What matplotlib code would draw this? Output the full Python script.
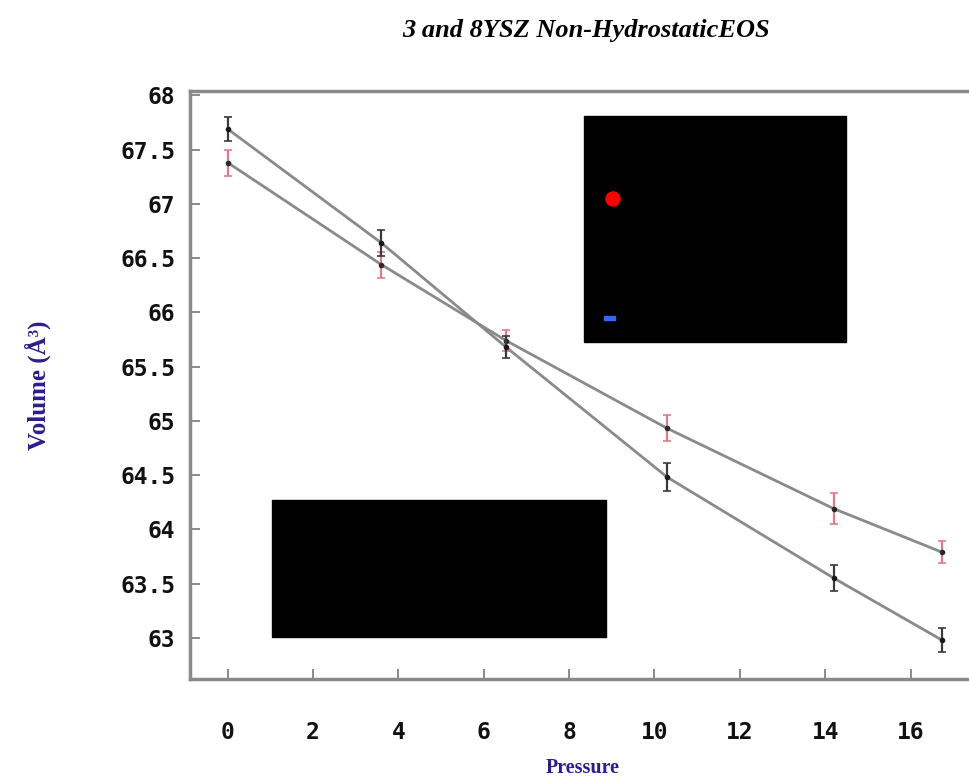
import matplotlib
matplotlib.use("Agg")
import matplotlib.pyplot as plt
from matplotlib.patches import Rectangle, Ellipse

# data
pressure = [0.0, 3.6, 6.52, 10.3, 14.2, 16.73]
vol_3ysz = [67.69, 66.64, 65.68, 64.48, 63.55, 62.98]
err_3ysz = [0.11, 0.12, 0.10, 0.13, 0.12, 0.11]
vol_8ysz = [67.38, 66.44, 65.74, 64.93, 64.19, 63.79]
err_8ysz = [0.12, 0.12, 0.10, 0.12, 0.14, 0.10]
xticks = [0, 2, 4, 6, 8, 10, 12, 14, 16]
yticks = [63, 63.5, 64, 64.5, 65, 65.5, 66, 66.5, 67, 67.5, 68]
ytick_labels = ["63", "63.5", "64", "64.5", "65", "65.5", "66", "66.5", "67", "67.5", "68"]

W, H = 969, 781
fig = plt.figure(figsize=(W / 100, H / 100), dpi=100)
ax = fig.add_axes([190 / W, 1 - 679 / H, (W - 190) / W, (679 - 91) / H])

grey = "#8a8a8a"
ax.plot(pressure, vol_3ysz, color=grey, lw=2.0, zorder=2)
ax.plot(pressure, vol_8ysz, color=grey, lw=2.0, zorder=2)
ax.errorbar(pressure, vol_8ysz, yerr=err_8ysz, fmt="o", ms=3, color="#2a2a2a",
            ecolor="#e07a8a", elinewidth=1.6, capsize=3, capthick=1.2, zorder=3)
ax.errorbar(pressure, vol_3ysz, yerr=err_3ysz, fmt="o", ms=3, color="#1a1a1a",
            ecolor="#3a3a3a", elinewidth=1.6, capsize=3, capthick=1.2, zorder=4)

ax.set_xlim(-0.883, 17.37)
ax.set_ylim(62.62, 68.04)
ax.set_xticks(xticks)
ax.set_yticks(yticks)
ax.set_yticklabels(ytick_labels)

ax.spines["right"].set_visible(False)
for s in ["left", "bottom", "top"]:
    ax.spines[s].set_color(grey)
    ax.spines[s].set_linewidth(2.5)

ax.tick_params(axis="both", direction="in", length=7, width=1.4, color=grey)
ax.tick_params(axis="x", pad=30)
ax.tick_params(axis="y", pad=10.5)
for lab in ax.get_xticklabels() + ax.get_yticklabels():
    lab.set_fontfamily("DejaVu Sans Mono")
    lab.set_fontweight("bold")
    lab.set_fontsize(16.5)
    lab.set_color("#111111")

fig.text(586 / W, 1 - 30 / H, "3 and 8YSZ Non-HydrostaticEOS", ha="center", va="center",
         family="Liberation Serif", weight="bold", style="italic", size=19)
navy = "#2a1e8c"
fig.text(583 / W, 1 - 768 / H, "Pressure", ha="center", va="center",
         family="Liberation Serif", weight="bold", size=14.5, color=navy)
fig.text(38 / W, 1 - 385 / H, "Volume (Å³)", ha="center", va="center", rotation=90,
         family="Liberation Serif", weight="bold", size=18, color=navy)

# black boxes covering the legend areas
tr = fig.transFigure
fig.add_artist(Rectangle((584 / W, 1 - 342 / H), (846 - 584) / W, (342 - 116) / H,
                         transform=tr, color="black", zorder=10))
fig.add_artist(Rectangle((272 / W, 1 - 637 / H), (606 - 272) / W, (637 - 500) / H,
                         transform=tr, color="black", zorder=10))
fig.add_artist(Ellipse((613 / W, 1 - 199 / H), 14 / W, 14 / H, transform=tr,
                       color="red", zorder=11))
fig.add_artist(Rectangle((604 / W, 1 - 320 / H), 11 / W, 4 / H, transform=tr,
                         color="#3366ff", zorder=11))

fig.savefig("out.png", dpi=100)
